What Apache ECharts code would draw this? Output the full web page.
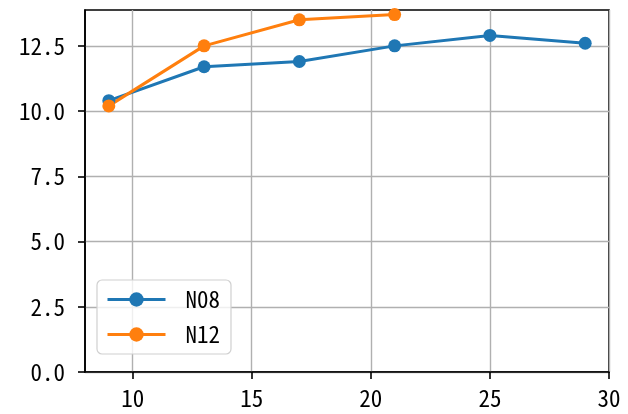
<!DOCTYPE html>
<html><head><meta charset="utf-8">
<script src="https://cdn.jsdelivr.net/npm/echarts@6/dist/echarts.min.js"></script>
<style>html,body{margin:0;padding:0;background:#fff}#c{width:628px;height:414px}</style>
</head><body><div id="c"></div>
<script>
const seriesNames = ['N08', 'N12'];
const xN08 = [9, 13, 17, 21, 25, 29];
const yN08 = [10.4, 11.7, 11.9, 12.5, 12.9, 12.6];
const xN12 = [9, 13, 17, 21];
const yN12 = [10.2, 12.5, 13.5, 13.7];
const xTicks = [10, 15, 20, 25, 30];
const yTicks = [0, 2.5, 5, 7.5, 10, 12.5];

const font = '"Noto Sans Mono CJK JP", "Noto Sans CJK JP", "DejaVu Sans", sans-serif';
const chart = echarts.init(document.getElementById('c'), null, {renderer: 'canvas'});
const pairs = (xs, ys) => xs.map((x, i) => [x, ys[i]]);
chart.setOption({
  animation: false,
  backgroundColor: '#fff',
  grid: {left: 85, right: 19, top: 10, bottom: 42, show: true, borderColor: '#000', borderWidth: 1.6, backgroundColor: 'transparent'},
  xAxis: {
    type: 'value', min: 8, max: 30,
    axisLine: {show: true, lineStyle: {color: '#000', width: 1.6}},
    axisTick: {show: true, length: 7, lineStyle: {color: '#000', width: 1.6}, customValues: xTicks},
    axisLabel: {customValues: xTicks, color: '#000', fontSize: 23, fontFamily: font, margin: 15},
    splitLine: {show: true, lineStyle: {color: '#b0b0b0', width: 1.4}}
  },
  yAxis: {
    type: 'value', min: 0, max: 13.875,
    axisLine: {show: true, lineStyle: {color: '#000', width: 1.6}},
    axisTick: {show: true, length: 7, lineStyle: {color: '#000', width: 1.6}, customValues: yTicks},
    axisLabel: {customValues: yTicks, color: '#000', fontSize: 23, fontFamily: font, margin: 20,
      formatter: v => v.toFixed(1)},
    splitLine: {show: true, lineStyle: {color: '#b0b0b0', width: 1.4}}
  },
  legend: {
    data: seriesNames,
    orient: 'vertical', left: 97, top: 280,
    itemWidth: 58, itemHeight: 18, itemGap: 12,
    padding: [8, 11, 8, 9],
    borderColor: '#d0d0d0', borderWidth: 1.2, borderRadius: 5,
    backgroundColor: 'rgba(255,255,255,0.8)',
    lineStyle: {width: 3},
    textStyle: {color: '#000', fontSize: 23, fontFamily: font, padding: [0, 0, 0, 15]}
  },
  series: [
    {name: seriesNames[0], type: 'line', data: pairs(xN08, yN08), color: '#1f77b4',
     symbol: 'circle', symbolSize: 13, lineStyle: {width: 3}, itemStyle: {color: '#1f77b4'}},
    {name: seriesNames[1], type: 'line', data: pairs(xN12, yN12), color: '#ff7f0e',
     symbol: 'circle', symbolSize: 13, lineStyle: {width: 3}, itemStyle: {color: '#ff7f0e'}}
  ]
});
</script></body></html>
